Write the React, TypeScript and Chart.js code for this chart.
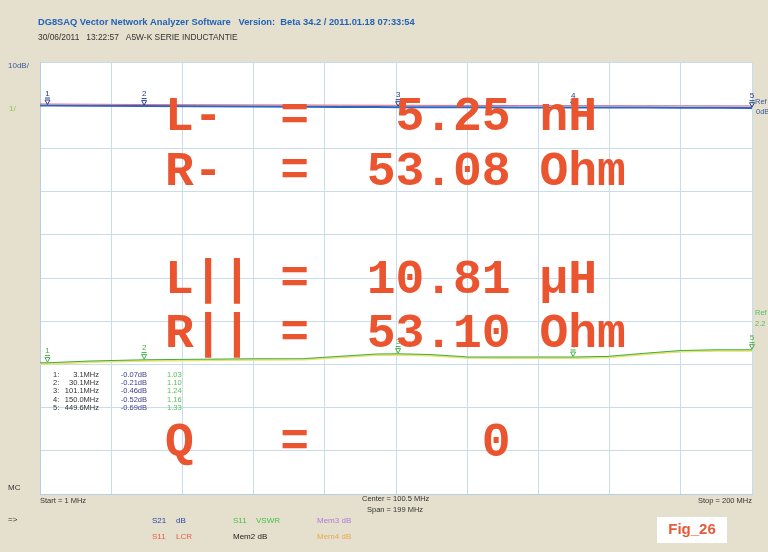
import React, { useEffect, useRef } from 'react';
import { Chart, registerables } from 'chart.js';

Chart.register(...registerables);

// Sweep settings (MHz)
const startMHz = 1;
const stopMHz = 200;

// Trace samples along the sweep
const freqMHz = [1, 3.1, 15, 30.1, 45, 60, 75, 85, 95, 101.1, 110, 120, 135, 150, 160, 170, 180, 190, 200];
const s21dB = [-0.05, -0.07, -0.14, -0.21, -0.26, -0.31, -0.36, -0.4, -0.44, -0.46, -0.48, -0.49, -0.51, -0.52, -0.54, -0.56, -0.58, -0.6, -0.62];
const s11LcrDb = [0.3, 0.28, 0.22, 0.15, 0.12, 0.08, 0.05, 0.02, 0.0, -0.02, -0.04, -0.06, -0.08, -0.1, -0.12, -0.14, -0.16, -0.18, -0.2];
const s11Vswr = [1.03, 1.03, 1.07, 1.1, 1.11, 1.12, 1.13, 1.18, 1.23, 1.24, 1.22, 1.17, 1.16, 1.16, 1.18, 1.25, 1.31, 1.33, 1.33];
const memVswr = [1.01, 1.01, 1.05, 1.08, 1.09, 1.1, 1.11, 1.16, 1.21, 1.22, 1.2, 1.15, 1.14, 1.14, 1.16, 1.23, 1.29, 1.31, 1.31];

// Marker readouts
const markerFreqMHz = [3.1, 30.1, 101.1, 150.0, 449.6];
const markerS21dB = [-0.07, -0.21, -0.46, -0.52, -0.69];
const markerVswr = [1.03, 1.1, 1.24, 1.16, 1.33];

// LCR evaluation shown over the plot
const readoutLabels = ['L-', 'R-', 'L||', 'R||', 'Q'];
const readoutValues = ['5.25', '53.08', '10.81', '53.10', '0'];
const readoutUnits = ['nH', 'Ohm', 'µH', 'Ohm', ''];

// Axis settings
const dbMin = -90;
const dbMax = 10;
const vswrMin = -2;
const vswrMax = 8;

const GRID = '#c9dcea';
const SANS = '"Liberation Sans", Arial, sans-serif';

function txt(ctx: CanvasRenderingContext2D, s: string, x: number, y: number, font: string, color: string, align: CanvasTextAlign = 'left') {
  ctx.font = font;
  ctx.fillStyle = color;
  ctx.textAlign = align;
  ctx.textBaseline = 'middle';
  ctx.fillText(s, x, y);
}

function markerGlyph(ctx: CanvasRenderingContext2D, n: number, x: number, y: number, color: string) {
  txt(ctx, String(n), x, y - 12, `8px ${SANS}`, color, 'center');
  ctx.strokeStyle = color;
  ctx.lineWidth = 1;
  ctx.beginPath();
  ctx.moveTo(x - 2.5, y - 7.5);
  ctx.lineTo(x + 2.5, y - 7.5);
  ctx.moveTo(x - 2.5, y - 5.5);
  ctx.lineTo(x + 2.5, y - 5.5);
  ctx.lineTo(x, y - 1);
  ctx.closePath();
  ctx.stroke();
}

const decor = {
  id: 'decor',
  beforeDraw(chart: any) {
    const { ctx, chartArea: a } = chart;
    ctx.save();
    ctx.fillStyle = '#e5e0cd';
    ctx.fillRect(0, 0, chart.width, chart.height);
    ctx.fillStyle = '#ffffff';
    ctx.fillRect(a.left, a.top, a.right - a.left, a.bottom - a.top);
    ctx.restore();
  },
  afterDraw(chart: any) {
    const { ctx, chartArea: a, scales } = chart;
    const xs = scales.x;
    const ys = scales.y;
    const ys2 = scales.y2;
    ctx.save();

    // Header
    txt(ctx, 'DG8SAQ Vector Network Analyzer Software   Version:  Beta 34.2 / 2011.01.18 07:33:54', 38, 22, `bold 9.3px ${SANS}`, '#2262b8');
    txt(ctx, '30/06/2011   13:22:57   A5W-K SERIE INDUCTANTIE', 38, 38, `8.4px ${SANS}`, '#333333');

    // Left scale captions
    txt(ctx, '10dB/', 8, 66, `8px ${SANS}`, '#3b5a9c');
    txt(ctx, '1/', 9, 109, `8px ${SANS}`, '#8cc43c');
    txt(ctx, 'MC', 8, 488, `8px ${SANS}`, '#333333');
    txt(ctx, '=>', 8, 520, `8px ${SANS}`, '#333333');

    // Sweep captions
    const center = (startMHz + stopMHz) / 2;
    const span = stopMHz - startMHz;
    txt(ctx, `Start = ${startMHz} MHz`, a.left, 501, `7.5px ${SANS}`, '#333333');
    txt(ctx, `Center = ${center} MHz`, 362, 499, `7.5px ${SANS}`, '#333333');
    txt(ctx, `Span = ${span} MHz`, 367, 510, `7.5px ${SANS}`, '#333333');
    txt(ctx, `Stop = ${stopMHz} MHz`, a.right, 501, `7.5px ${SANS}`, '#333333', 'right');

    // Trace legend
    const lf = `8px ${SANS}`;
    txt(ctx, 'S21', 152, 521, lf, '#2a46a6');
    txt(ctx, 'dB', 176, 521, lf, '#2a46a6');
    txt(ctx, 'S11', 233, 521, lf, '#48c048');
    txt(ctx, 'VSWR', 256, 521, lf, '#48c048');
    txt(ctx, 'Mem3 dB', 317, 521, lf, '#b478d8');
    txt(ctx, 'S11', 152, 537, lf, '#e0604a');
    txt(ctx, 'LCR', 176, 537, lf, '#e0604a');
    txt(ctx, 'Mem2 dB', 233, 537, lf, '#222222');
    txt(ctx, 'Mem4 dB', 317, 537, lf, '#e8a850');

    // Reference captions at the right edge
    txt(ctx, 'Ref', 755, 102, `7.5px ${SANS}`, '#3b5a9c');
    txt(ctx, '0dB', 756, 112, `7.5px ${SANS}`, '#3b5a9c');
    txt(ctx, 'Ref', 755, 313, `7.5px ${SANS}`, '#58c058');
    txt(ctx, '2.2', 755, 324, `7.5px ${SANS}`, '#58c058');

    // Markers on both traces
    markerFreqMHz.forEach((f, i) => {
      const px = xs.getPixelForValue(Math.min(f, stopMHz));
      markerGlyph(ctx, i + 1, px, ys.getPixelForValue(markerS21dB[i]), '#24408a');
      markerGlyph(ctx, i + 1, px, ys2.getPixelForValue(markerVswr[i]), '#48b048');
    });

    // Marker table
    const tf = `7.5px ${SANS}`;
    markerFreqMHz.forEach((f, i) => {
      const y = 375 + i * 8.2;
      txt(ctx, `${i + 1}:`, 53, y, tf, '#333333');
      txt(ctx, `${f.toFixed(1)}MHz`, 99, y, tf, '#333333', 'right');
      txt(ctx, `${markerS21dB[i].toFixed(2)}dB`, 147, y, tf, '#3c3c8c', 'right');
      txt(ctx, markerVswr[i].toFixed(2), 167, y, tf, '#58c058');
    });

    // LCR readout
    const rowBase = [130, 185, 293, 347, 456];
    ctx.font = 'bold 48px "Liberation Mono", "Courier New", monospace';
    ctx.fillStyle = '#ea5530';
    ctx.textAlign = 'left';
    ctx.textBaseline = 'alphabetic';
    readoutLabels.forEach((lab, i) => {
      const line = lab.padEnd(4) + '=' + readoutValues[i].padStart(7) + ' ' + readoutUnits[i];
      ctx.fillText(line, 165, rowBase[i]);
    });

    // Figure tag
    ctx.fillStyle = '#ffffff';
    ctx.fillRect(657, 517, 70, 26);
    txt(ctx, 'Fig_26', 692, 530, `bold 15px ${SANS}`, '#e65a3a', 'center');

    ctx.restore();
  },
};

export default function App() {
  const ref = useRef<HTMLCanvasElement>(null);

  useEffect(() => {
    const canvas = ref.current;
    if (!canvas) return;
    const gridTicks = (lo: number, hi: number) => (s: any) => {
      s.ticks = Array.from({ length: 11 }, (_, i) => ({ value: lo + (i * (hi - lo)) / 10 }));
    };
    const chart = new Chart(canvas, {
      type: 'line',
      data: {
        datasets: [
          {
            label: 'Mem VSWR',
            data: freqMHz.map((f, i) => ({ x: f, y: memVswr[i] })),
            yAxisID: 'y2',
            borderColor: '#e9e26e',
            borderWidth: 1.5,
            pointRadius: 0,
          },
          {
            label: 'S11 VSWR',
            data: freqMHz.map((f, i) => ({ x: f, y: s11Vswr[i] })),
            yAxisID: 'y2',
            borderColor: '#3fae4a',
            borderWidth: 1.8,
            pointRadius: 0,
          },
          {
            label: 'S11 LCR',
            data: freqMHz.map((f, i) => ({ x: f, y: s11LcrDb[i] })),
            yAxisID: 'y',
            borderColor: '#e0708a',
            borderWidth: 1,
            pointRadius: 0,
          },
          {
            label: 'S21 dB',
            data: freqMHz.map((f, i) => ({ x: f, y: s21dB[i] })),
            yAxisID: 'y',
            borderColor: '#2a66c4',
            borderWidth: 2,
            pointRadius: 0,
          },
        ],
      },
      options: {
        animation: false,
        responsive: false,
        events: [],
        layout: { padding: { left: 40, top: 62, right: 16, bottom: 58 } },
        plugins: { legend: { display: false }, tooltip: { enabled: false } },
        scales: {
          x: {
            type: 'linear',
            min: startMHz,
            max: stopMHz,
            afterBuildTicks: gridTicks(startMHz, stopMHz),
            ticks: { display: false },
            grid: { color: GRID, drawTicks: false },
            border: { color: '#b4cfe2' },
          },
          y: {
            min: dbMin,
            max: dbMax,
            afterBuildTicks: gridTicks(dbMin, dbMax),
            ticks: { display: false },
            grid: { color: GRID, drawTicks: false },
            border: { color: '#b4cfe2' },
          },
          y2: {
            position: 'right',
            min: vswrMin,
            max: vswrMax,
            display: false,
          },
        },
      },
      plugins: [decor],
    });
    return () => chart.destroy();
  }, []);

  return (
    <div style={{ position: 'fixed', left: 0, top: 0, width: 768, height: 552, background: '#e5e0cd' }}>
      <canvas ref={ref} width={768} height={552} style={{ display: 'block' }} />
    </div>
  );
}
